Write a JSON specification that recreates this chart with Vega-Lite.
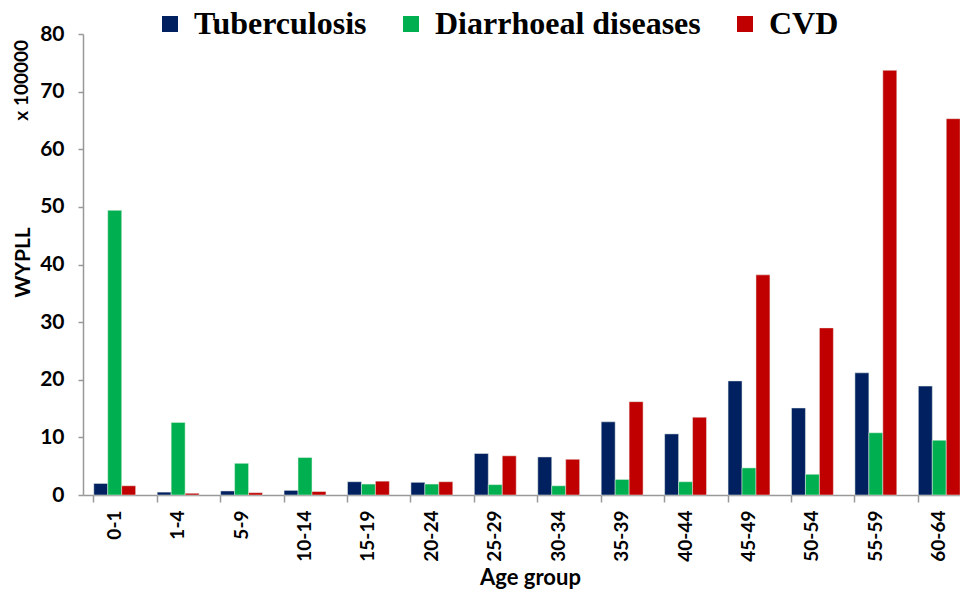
{
  "$schema": "https://vega.github.io/schema/vega-lite/v6.json",
  "autosize": "none",
  "width": 888,
  "height": 461,
  "padding": {"left": 83, "top": 34, "right": 0, "bottom": 98},
  "background": "white",
  "config": {"view": {"stroke": null}, "font": "Lato"},
  "title": {"text": "x 100000", "orient": "left", "anchor": "end", "frame": "group", "fontSize": 19, "font": "Lato", "fontWeight": "bold", "offset": -22, "dy": -2, "dx": -6},
  "data": {"values": [
    {"age": "0-1", "cause": "Tuberculosis", "v": 2.0},
    {"age": "0-1", "cause": "Diarrhoeal diseases", "v": 49.4},
    {"age": "0-1", "cause": "CVD", "v": 1.6},
    {"age": "1-4", "cause": "Tuberculosis", "v": 0.5},
    {"age": "1-4", "cause": "Diarrhoeal diseases", "v": 12.6},
    {"age": "1-4", "cause": "CVD", "v": 0.3},
    {"age": "5-9", "cause": "Tuberculosis", "v": 0.7},
    {"age": "5-9", "cause": "Diarrhoeal diseases", "v": 5.5},
    {"age": "5-9", "cause": "CVD", "v": 0.4},
    {"age": "10-14", "cause": "Tuberculosis", "v": 0.8},
    {"age": "10-14", "cause": "Diarrhoeal diseases", "v": 6.5},
    {"age": "10-14", "cause": "CVD", "v": 0.6},
    {"age": "15-19", "cause": "Tuberculosis", "v": 2.3},
    {"age": "15-19", "cause": "Diarrhoeal diseases", "v": 1.9},
    {"age": "15-19", "cause": "CVD", "v": 2.4},
    {"age": "20-24", "cause": "Tuberculosis", "v": 2.2},
    {"age": "20-24", "cause": "Diarrhoeal diseases", "v": 1.9},
    {"age": "20-24", "cause": "CVD", "v": 2.3},
    {"age": "25-29", "cause": "Tuberculosis", "v": 7.2},
    {"age": "25-29", "cause": "Diarrhoeal diseases", "v": 1.8},
    {"age": "25-29", "cause": "CVD", "v": 6.8},
    {"age": "30-34", "cause": "Tuberculosis", "v": 6.6},
    {"age": "30-34", "cause": "Diarrhoeal diseases", "v": 1.6},
    {"age": "30-34", "cause": "CVD", "v": 6.2},
    {"age": "35-39", "cause": "Tuberculosis", "v": 12.7},
    {"age": "35-39", "cause": "Diarrhoeal diseases", "v": 2.7},
    {"age": "35-39", "cause": "CVD", "v": 16.2},
    {"age": "40-44", "cause": "Tuberculosis", "v": 10.6},
    {"age": "40-44", "cause": "Diarrhoeal diseases", "v": 2.3},
    {"age": "40-44", "cause": "CVD", "v": 13.5},
    {"age": "45-49", "cause": "Tuberculosis", "v": 19.8},
    {"age": "45-49", "cause": "Diarrhoeal diseases", "v": 4.7},
    {"age": "45-49", "cause": "CVD", "v": 38.2},
    {"age": "50-54", "cause": "Tuberculosis", "v": 15.1},
    {"age": "50-54", "cause": "Diarrhoeal diseases", "v": 3.6},
    {"age": "50-54", "cause": "CVD", "v": 29.0},
    {"age": "55-59", "cause": "Tuberculosis", "v": 21.2},
    {"age": "55-59", "cause": "Diarrhoeal diseases", "v": 10.8},
    {"age": "55-59", "cause": "CVD", "v": 73.7},
    {"age": "60-64", "cause": "Tuberculosis", "v": 18.9},
    {"age": "60-64", "cause": "Diarrhoeal diseases", "v": 9.5},
    {"age": "60-64", "cause": "CVD", "v": 65.3}
  ]},
  "mark": {"type": "bar", "stroke": "#e8f0e8", "strokeWidth": 0.5},
  "encoding": {
    "x": {
      "field": "age", "type": "nominal", "sort": null,
      "scale": {"paddingInner": 0.34, "paddingOuter": 0.17},
      "axis": {
        "title": "Age group", "titleFontSize": 22, "titleFontWeight": "bold", "titleColor": "black", "titleY": 72, "titleX": 447,
        "labelAngle": 270, "labelFontSize": 19, "labelFontWeight": "bold", "labelColor": "black", "labelPadding": 8,
        "bandPosition": 0, "tickSize": 7, "tickColor": "#999", "domainColor": "#999", "domainWidth": 1.5, "tickWidth": 1.5
      }
    },
    "xOffset": {"field": "cause", "type": "nominal", "sort": ["Tuberculosis", "Diarrhoeal diseases", "CVD"], "scale": {"paddingInner": 0, "paddingOuter": 0}},
    "y": {
      "field": "v", "type": "quantitative",
      "scale": {"domain": [0, 80], "nice": false},
      "axis": {
        "title": "WYPLL", "titleFontSize": 21, "titleFontWeight": "bold", "titleColor": "black", "titleY": 228, "titleX": -50,
        "values": [0, 10, 20, 30, 40, 50, 60, 70, 80], "grid": false,
        "labelFontSize": 21, "labelFontWeight": "bold", "labelColor": "black", "labelPadding": 14,
        "tickSize": 5, "tickColor": "#999", "domainColor": "#999", "domainWidth": 1.5, "tickWidth": 1.5
      }
    },
    "color": {
      "field": "cause", "type": "nominal",
      "sort": ["Tuberculosis", "Diarrhoeal diseases", "CVD"],
      "scale": {"domain": ["Tuberculosis", "Diarrhoeal diseases", "CVD"], "range": ["#002060", "#00B050", "#C00000"]},
      "legend": {
        "title": null, "orient": "none", "legendX": 71, "legendY": -26, "direction": "horizontal",
        "symbolType": "square", "symbolSize": 256, "symbolStrokeWidth": 0,
        "labelFont": "Liberation Serif", "labelFontSize": 32, "labelFontWeight": "bold", "labelColor": "black",
        "labelOffset": 8, "columnPadding": 28, "labelLimit": 400
      }
    }
  }
}
